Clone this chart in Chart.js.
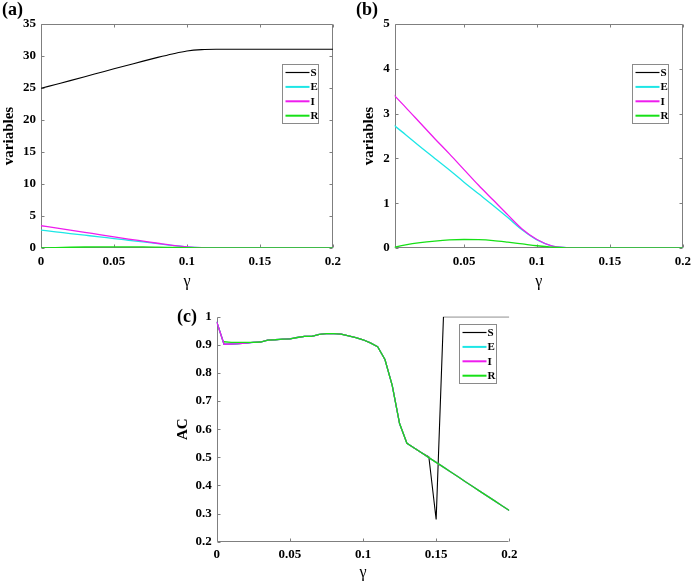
<!DOCTYPE html>
<html>
<head>
<meta charset="utf-8">
<script src="https://cdn.jsdelivr.net/npm/chart.js@4.4.1/dist/chart.umd.min.js"></script>
<style>
  html, body { margin: 0; padding: 0; background: #fff; }
  #wrap { position: relative; width: 697px; height: 583px; overflow: hidden; }
  canvas { position: absolute; }
  .tag { position: absolute; font: bold 18px "Liberation Serif", serif; line-height: 1; color: #000; }
</style>
</head>
<body>
<div id="wrap">
  <canvas id="chartA" width="347" height="290" style="left:0;top:0"></canvas>
  <canvas id="chartB" width="350" height="290" style="left:347px;top:0"></canvas>
  <canvas id="chartC" width="380" height="303" style="left:150px;top:280px"></canvas>
  <div class="tag" style="left:2px;top:0">(a)</div>
  <div class="tag" style="left:356px;top:0">(b)</div>
  <div class="tag" style="left:177px;top:307px">(c)</div>
</div>
<script>
/* ============================
   DATA
   ============================ */
const seriesNames = ["S", "E", "I", "R"];

// panels (a) and (b): equilibrium values vs gamma
const gammaAB = [0, 0.01, 0.02, 0.03, 0.04, 0.05, 0.06, 0.07, 0.08, 0.09, 0.1,
  0.11, 0.12, 0.13, 0.14, 0.15, 0.16, 0.17, 0.18, 0.19, 0.2];
const sVals = [24.95, 25.55, 26.15, 26.76, 27.38, 28.0, 28.6, 29.2, 29.78, 30.32, 30.78,
  31.0, 31.05, 31.05, 31.05, 31.05, 31.05, 31.05, 31.05, 31.05, 31.05];
const eVals = [2.79, 2.53, 2.26, 2.0, 1.74, 1.47, 1.21, 0.95, 0.68, 0.4, 0.18,
  0.05, 0.01, 0, 0, 0, 0, 0, 0, 0, 0];
const iVals = [3.48, 3.14, 2.79, 2.44, 2.1, 1.75, 1.4, 1.07, 0.74, 0.42, 0.19,
  0.05, 0.01, 0, 0, 0, 0, 0, 0, 0, 0];
const rVals = [0, 0.07, 0.12, 0.155, 0.18, 0.19, 0.185, 0.165, 0.13, 0.09, 0.05,
  0.02, 0.005, 0, 0, 0, 0, 0, 0, 0, 0];

// panel (c): autocorrelation vs gamma
const gammaC = [0, 0.005, 0.01, 0.015, 0.02, 0.025, 0.03, 0.035, 0.04, 0.045, 0.05,
  0.055, 0.06, 0.065, 0.07, 0.075, 0.08, 0.085, 0.09, 0.095, 0.1,
  0.105, 0.11, 0.115, 0.12, 0.125, 0.13, 0.135, 0.14, 0.145, 0.15,
  0.155, 0.16, 0.165, 0.17, 0.175, 0.18, 0.185, 0.19, 0.195, 0.2];
const acR = [null, 0.911, 0.909, 0.909, 0.909, 0.909, 0.91, 0.917, 0.918, 0.92, 0.921,
  0.926, 0.93, 0.93, 0.937, 0.94, 0.94, 0.938, 0.932, 0.926, 0.918,
  0.907, 0.893, 0.848, 0.755, 0.62, 0.55, 0.533, 0.516, 0.499, 0.482,
  0.465, 0.448, 0.431, 0.413, 0.396, 0.379, 0.362, 0.345, 0.328, 0.311];
const acI = [0.982, 0.902, 0.903, 0.904, 0.906, 0.909, 0.91, 0.917, 0.918, 0.92, 0.921,
  0.926, 0.93, 0.93, 0.937, 0.94, 0.94, 0.938, 0.932, 0.926, 0.918,
  0.907, 0.893, 0.848, 0.755, 0.62, 0.55, 0.533, 0.516, 0.499, 0.482,
  0.465, 0.448, 0.431, 0.413, 0.396, 0.379, 0.362, 0.345, 0.328, 0.311];
const acE = acI.slice();
const acS = [0.982, 0.902, 0.903, 0.904, 0.906, 0.909, 0.91, 0.917, 0.918, 0.92, 0.921,
  0.926, 0.93, 0.93, 0.937, 0.94, 0.94, 0.938, 0.932, 0.926, 0.918,
  0.907, 0.893, 0.848, 0.755, 0.62, 0.55, 0.533, 0.516, 0.502, 0.279,
  1, 1, 1, 1, 1, 1, 1, 1, 1, 1];

// tick labels
const xTicksA = [0, 0.05, 0.1, 0.15, 0.2];
const xTicksB = [0.05, 0.1, 0.15, 0.2];
const yTicksA = [0, 5, 10, 15, 20, 25, 30, 35];
const yTicksB = [0, 1, 2, 3, 4, 5];
const yTicksC = [0.2, 0.3, 0.4, 0.5, 0.6, 0.7, 0.8, 0.9, 1];

/* ============================
   STYLE
   ============================ */
const FAMILY = "'Liberation Serif', 'Times New Roman', serif";
const COLORS = ["#000000", "#1de6e6", "#ee1cee", "#16e016"];
const AXIS = "#7f7f7f";

const pts = (xs, ys) => xs.map((x, i) => ({ x, y: ys[i] }));

function makeDatasets(xs, lists, smooth) {
  return lists.map((ys, i) => ({
    label: seriesNames[i],
    data: pts(xs, ys),
    borderColor: COLORS[i],
    borderWidth: i === 0 ? 1.1 : 1.3,
    pointRadius: 0,
    fill: false,
    order: 4 - i, // R drawn on top, like MATLAB plot order
    tension: 0,
    cubicInterpolationMode: smooth ? "monotone" : "default",
  }));
}

/* ============================
   PLUGINS
   ============================ */
// matlab style axes: gray box + inward ticks
const axesBox = {
  id: "axesBox",
  beforeDatasetsDraw(chart, args, opts) {
    const { ctx, chartArea: a, scales } = chart;
    const L = Math.round(a.left) + 0.5, R = Math.round(a.right) - 0.5;
    const T = Math.round(a.top) + 0.5, B = Math.round(a.bottom) - 0.5;
    const len = 3;
    ctx.save();
    ctx.strokeStyle = AXIS;
    ctx.lineWidth = 1;
    ctx.beginPath();
    ctx.moveTo(L, T);
    ctx.lineTo(L, B);
    ctx.lineTo(R, B);
    if (opts.box) {
      ctx.lineTo(R, T);
      ctx.lineTo(L, T);
    }
    scales.x.ticks.forEach((t) => {
      const px = Math.round(scales.x.getPixelForValue(t.value)) + 0.5;
      ctx.moveTo(px, B);
      ctx.lineTo(px, B - len);
      if (opts.box) {
        ctx.moveTo(px, T);
        ctx.lineTo(px, T + len);
      }
    });
    scales.y.ticks.forEach((t) => {
      const py = Math.round(scales.y.getPixelForValue(t.value)) + 0.5;
      ctx.moveTo(L, py);
      ctx.lineTo(L + len, py);
      if (opts.box) {
        ctx.moveTo(R, py);
        ctx.lineTo(R - len, py);
      }
    });
    ctx.stroke();
    ctx.restore();
  },
};

// legend box inside the axes (north east)
const boxLegend = {
  id: "boxLegend",
  afterDraw(chart, args, opts) {
    const { ctx, chartArea } = chart;
    const x = Math.round(chartArea.right - opts.right - opts.width) + 0.5;
    const y = Math.round(chartArea.top + opts.top) + 0.5;
    ctx.save();
    ctx.fillStyle = "#fff";
    ctx.fillRect(x, y, opts.width, opts.height);
    ctx.strokeStyle = "#8a8a8a";
    ctx.lineWidth = 1;
    ctx.strokeRect(x, y, opts.width, opts.height);
    ctx.font = "bold 11px " + FAMILY;
    ctx.textBaseline = "middle";
    ctx.textAlign = "left";
    chart.data.datasets.forEach((ds, i) => {
      const ly = y + 8 + i * 14.4;
      ctx.strokeStyle = ds.borderColor;
      ctx.lineWidth = i === 0 ? 1.2 : 2;
      ctx.beginPath();
      ctx.moveTo(x + 3, ly);
      ctx.lineTo(x + 27, ly);
      ctx.stroke();
      ctx.fillStyle = "#000";
      ctx.fillText(ds.label, x + 28, ly + 0.5);
    });
    ctx.restore();
  },
};

/* ============================
   CHART FACTORY
   ============================ */
function tickFmt(v) {
  return String(+Number(v).toFixed(3));
}

function makeChart(id, cfg) {
  const ctx = document.getElementById(id).getContext("2d");
  return new Chart(ctx, {
    type: "line",
    data: { datasets: cfg.datasets },
    options: {
      responsive: false,
      animation: false,
      devicePixelRatio: 1,
      events: [],
      layout: { padding: cfg.padding },
      plugins: {
        legend: { display: false },
        tooltip: { enabled: false },
        axesBox: { box: cfg.box },
        boxLegend: cfg.legend,
      },
      scales: {
        x: {
          type: "linear",
          min: cfg.xMin,
          max: cfg.xMax,
          grid: { display: false, drawTicks: false },
          border: { display: false },
          afterBuildTicks: (s) => { s.ticks = cfg.xTicks.map((v) => ({ value: v })); },
          afterFit: (s) => { s.height = cfg.xHeight; },
          ticks: {
            padding: cfg.xPad,
            color: "#000",
            maxRotation: 0,
            autoSkip: false,
            font: { family: FAMILY, size: 13, weight: "bold" },
            callback: tickFmt,
          },
          title: {
            display: true,
            text: "γ",
            color: "#000",
            font: { family: FAMILY, size: 16, weight: "normal" },
            padding: { top: 0, bottom: cfg.xTitlePad },
          },
        },
        y: {
          type: "linear",
          min: cfg.yMin,
          max: cfg.yMax,
          grid: { display: false, drawTicks: false },
          border: { display: false },
          afterBuildTicks: (s) => { s.ticks = cfg.yTicks.map((v) => ({ value: v })); },
          afterFit: (s) => { s.width = cfg.yWidth; },
          ticks: {
            padding: 5,
            color: "#000",
            autoSkip: false,
            font: { family: FAMILY, size: 13, weight: "bold" },
            callback: tickFmt,
          },
          title: {
            display: true,
            text: cfg.yTitle,
            color: "#000",
            font: { family: FAMILY, size: 15, weight: "bold" },
            padding: 0,
          },
        },
      },
    },
    plugins: [axesBox, boxLegend],
  });
}

/* ============================
   INIT
   ============================ */
makeChart("chartA", {
  datasets: makeDatasets(gammaAB, [sVals, eVals, iVals, rVals], true),
  padding: { left: 0, top: 24, right: 14, bottom: 0 },
  xMin: 0, xMax: 0.2, xTicks: xTicksA,
  yMin: 0, yMax: 35, yTicks: yTicksA,
  yTitle: "variables",
  yWidth: 41, xHeight: 42, xPad: 6, xTitlePad: -1,
  box: true,
  legend: { right: 15, width: 36, top: 40, height: 59 },
});

makeChart("chartB", {
  datasets: makeDatasets(gammaAB, [sVals, eVals, iVals, rVals], true),
  padding: { left: 13.5, top: 24, right: 9.3, bottom: 0 },
  xMin: 0.0025, xMax: 0.2, xTicks: xTicksB,
  yMin: 0, yMax: 5, yTicks: yTicksB,
  yTitle: "variables",
  yWidth: 34.2, xHeight: 42, xPad: 6, xTitlePad: -1,
  box: true,
  legend: { right: 15, width: 36, top: 40, height: 59 },
});

makeChart("chartC", {
  datasets: makeDatasets(gammaC, [acS, acE, acI, acR], false),
  padding: { left: 23.7, top: 36.7, right: 20.7, bottom: 0 },
  xMin: 0, xMax: 0.2, xTicks: xTicksA,
  yMin: 0.2, yMax: 1, yTicks: yTicksC,
  yTitle: "AC",
  yWidth: 43, xHeight: 41.3, xPad: 5.5, xTitlePad: 1,
  box: false,
  legend: { right: 13, width: 37, top: 7, height: 59 },
});
</script>
</body>
</html>
